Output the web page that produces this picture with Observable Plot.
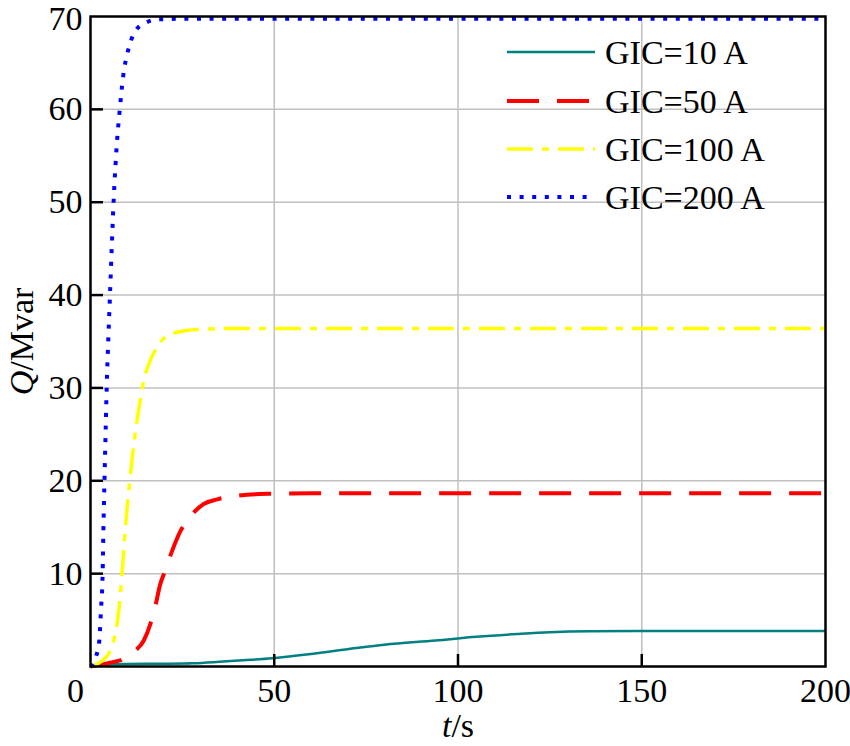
<!DOCTYPE html>
<html>
<head>
<meta charset="utf-8">
<script src="https://cdn.jsdelivr.net/npm/d3@7"></script>
<script src="https://cdn.jsdelivr.net/npm/@observablehq/plot@0.6"></script>
<style>
  html, body { margin: 0; padding: 0; background: #fff; }
  #chart { width: 850px; height: 746px; }
</style>
</head>
<body>
<div id="chart"></div>
<script>
// ---- data ----
const seriesNames = ["GIC=10 A", "GIC=50 A", "GIC=100 A", "GIC=200 A"];

const t10 = [0, 5, 10, 20, 28, 35, 43.5, 49.4, 60, 70.7, 80, 93.9, 105, 116, 125, 136, 150, 200];
const q10 = [0, 0.25, 0.28, 0.3, 0.35, 0.5, 0.72, 0.9, 1.35, 1.9, 2.35, 2.8, 3.2, 3.5, 3.7, 3.8, 3.82, 3.82];

const t50 = [0, 3, 6.3, 8, 10, 12.2, 14.5, 16.3, 17.7, 19, 20, 21.6, 24.5, 27.7, 30.8, 34.5, 39.9, 48, 60, 200];
const q50 = [0, 0.2, 0.5, 0.65, 1.1, 1.7, 2.8, 4.6, 6.6, 8.9, 10, 11.8, 14.6, 16.4, 17.5, 18, 18.4, 18.6, 18.65, 18.65];

const t100 = [0, 2, 4, 5, 6.3, 7.7, 8.6, 9.5, 10.7, 11.8, 13.1, 14.5, 16.3, 18.1, 20.4, 23.6, 29, 40, 200];
const q100 = [0, 0.3, 0.9, 1.4, 2.8, 6, 10, 15, 20, 24, 27.6, 30.8, 33, 34.4, 35.5, 36, 36.3, 36.4, 36.4];

const t200 = [0, 1, 1.6, 2.3, 2.9, 3.3, 3.5, 3.8, 4.1, 4.4, 4.9, 5.3, 6.3, 7.3, 7.9, 8.9, 10.2, 11.1, 12.7, 15.4, 18.8, 25, 200];
const q200 = [0, 0.4, 1.2, 2.4, 6.4, 10, 14.5, 20, 25, 30, 35.8, 40, 50.2, 57, 59.7, 63.6, 66.3, 67.5, 68.7, 69.4, 69.7, 69.75, 69.75];

const xTicks = [0, 50, 100, 150, 200];
const yTicks = [10, 20, 30, 40, 50, 60, 70];

// ---- styles ----
const seriesColors = ["#008080", "#ff0000", "#ffff00", "#0000ff"];
const seriesDash = [null, "32,18", "26,9,7,9", "4,8.6"];
const seriesWidth = [2.5, 4, 3.5, 4];

const seriesT = [t10, t50, t100, t200];
const seriesQ = [q10, q50, q100, q200];
const rows = seriesNames.map((name, i) => seriesT[i].map((t, j) => ({series: name, t, q: seriesQ[i][j]})));

const fontFamily = "'Liberation Serif', 'Times New Roman', serif";
const FS = 34;
const empty = () => "";

const plot = Plot.plot({
  width: 850,
  height: 746,
  marginLeft: 90,
  marginRight: 25,
  marginTop: 16,
  marginBottom: 80,
  style: {fontFamily, fontSize: FS + "px", background: "#fff", color: "#000"},
  x: {domain: [0, 200], ticks: xTicks},
  y: {domain: [0, 70], ticks: yTicks},
  marks: [
    Plot.gridX(xTicks.slice(1, -1), {stroke: "#c0c0c0", strokeOpacity: 1, strokeWidth: 1.5}),
    Plot.gridY(yTicks.slice(0, -1), {stroke: "#c0c0c0", strokeOpacity: 1, strokeWidth: 1.5}),
    ...rows.map((data, i) => Plot.line(data, {
      x: "t", y: "q", stroke: seriesColors[i], strokeWidth: seriesWidth[i],
      strokeDasharray: seriesDash[i] || undefined, curve: "monotone-x",
      strokeLinecap: "butt", strokeLinejoin: "round"
    })),
    // inward tick marks
    Plot.axisX(xTicks.slice(1, -1), {tickSize: 12, dy: -12, tickFormat: empty, label: null, strokeWidth: 2.5, stroke: "#000"}),
    Plot.axisY(yTicks.slice(0, -1), {tickSize: 13, dx: 13, tickFormat: empty, label: null, strokeWidth: 2.5, stroke: "#000"}),
    // tick labels
    Plot.axisX(xTicks.slice(0, 1), {tickSize: 0, tickPadding: 11, label: null, fontSize: FS, dx: -15}),
    Plot.axisX(xTicks.slice(1), {tickSize: 0, tickPadding: 11, label: null, fontSize: FS}),
    Plot.axisY(yTicks.slice(0, -1), {tickSize: 0, tickPadding: 8, label: null, fontSize: FS}),
    Plot.axisY(yTicks.slice(-1), {tickSize: 0, tickPadding: 8, label: null, fontSize: FS, dy: 3}),
    Plot.frame({stroke: "#000", strokeWidth: 2.5}),
    // axis titles
    Plot.text(["Q/Mvar"], {frameAnchor: "left", dx: -68, rotate: -90, fontSize: FS, textAnchor: "middle", lineAnchor: "middle", text: d => d}),
    Plot.text(["t/s"], {frameAnchor: "bottom", dy: 60, fontSize: FS, textAnchor: "middle", lineAnchor: "middle", text: d => d})
  ]
});

document.getElementById("chart").appendChild(plot);

// italic variable names in axis titles
const svg = d3.select(plot);
svg.selectAll("text").filter(function () { return this.textContent === "Q/Mvar"; })
  .text(null)
  .call(s => { s.append("tspan").attr("font-style", "italic").text("Q"); s.append("tspan").text("/Mvar"); });
svg.selectAll("text").filter(function () { return this.textContent === "t/s"; })
  .text(null)
  .call(s => { s.append("tspan").attr("font-style", "italic").text("t"); s.append("tspan").text("/s"); });

// legend (inside the plot, top right)
const legendRowsY = [52, 101, 149, 197];
const lg = svg.append("g").attr("aria-label", "legend");
seriesNames.forEach((name, i) => {
  const g = lg.append("g").attr("transform", `translate(0,${legendRowsY[i]})`);
  g.append("line").attr("x1", 507).attr("x2", 595).attr("y1", 0).attr("y2", 0)
    .attr("stroke", seriesColors[i]).attr("stroke-width", seriesWidth[i])
    .attr("stroke-dasharray", seriesDash[i]);
  g.append("text").attr("x", 605).attr("y", 0).attr("dy", "0.35em")
    .attr("text-anchor", "start")
    .attr("font-size", FS).attr("font-family", fontFamily).attr("fill", "#000").text(name);
});
</script>
</body>
</html>
